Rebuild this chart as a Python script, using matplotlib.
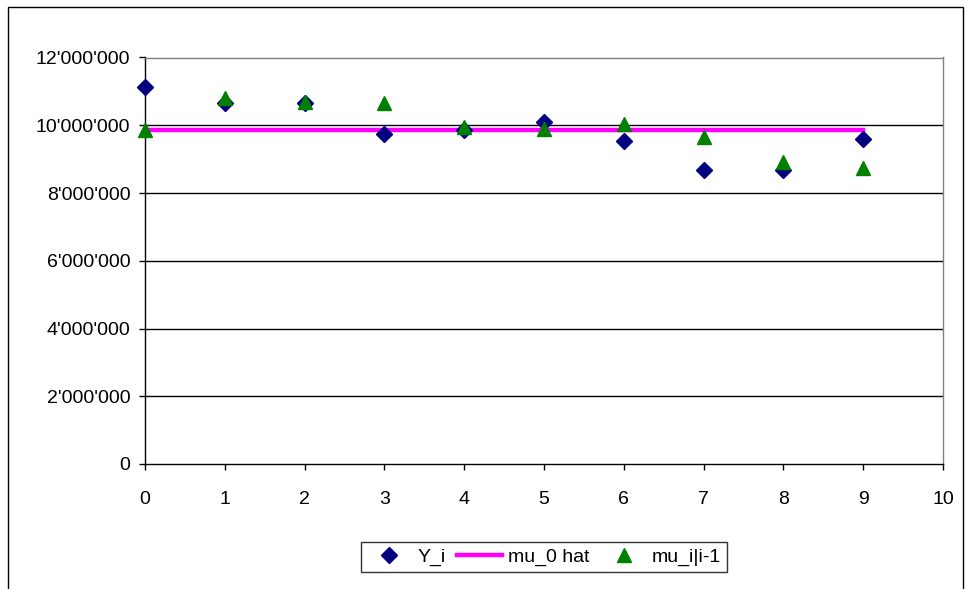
import numpy as np
import matplotlib.pyplot as plt
from matplotlib.ticker import FuncFormatter
from matplotlib.patches import Rectangle

plt.rcParams['font.family'] = ['Liberation Sans', 'DejaVu Sans']

# observations and one-step predictions
i_vals = [0, 1, 2, 3, 4, 5, 6, 7, 8, 9]
y_i = [11130000, 10660000, 10660000, 9730000, 9850000, 10100000,
       9540000, 8690000, 8690000, 9600000]
mu_pred = [9870000, 10790000, 10680000, 10650000, 9950000, 9880000,
           10030000, 9650000, 8910000, 8740000]
mu0_hat = 9870000

fig = plt.figure(figsize=(9.69, 5.89), dpi=100)
fig.patches.append(Rectangle((8 / 969, -0.05), 955 / 969, 1 - 7 / 589 + 0.05,
                             transform=fig.transFigure, fill=False,
                             edgecolor='black', linewidth=1))
ax = fig.add_axes([145 / 969, 1 - 464 / 589, 798 / 969, 406.5 / 589])

ax.plot(i_vals, y_i, linestyle='none', marker='D', markersize=8.3,
        color='#000080', label='Y_i', zorder=4, clip_on=False)
ax.plot([i_vals[0], i_vals[-1]], [mu0_hat, mu0_hat], color='#FF00FF',
        linewidth=3.2, label='mu_0 hat', zorder=3)
ax.plot(i_vals, mu_pred, linestyle='none', marker='^', markersize=10.5,
        color='#008000', label='mu_i|i-1', zorder=5, clip_on=False)

ax.set_xlim(0, 10)
ax.set_ylim(0, 12000000)
ax.set_xticks(range(0, 11))
ax.set_yticks(range(0, 12000001, 2000000))
ax.yaxis.set_major_formatter(FuncFormatter(lambda v, p: f"{int(v):,}".replace(',', "'")))

for gy in range(2000000, 12000001, 2000000):
    ax.axhline(gy, color='black', linewidth=1, zorder=1)

ax.spines['top'].set_color('#808080')
ax.spines['right'].set_color('#808080')
ax.spines['left'].set_color('black')
ax.spines['bottom'].set_color('black')
for s in ax.spines.values():
    s.set_linewidth(1)
ax.tick_params(direction='out', length=4.5, width=1, labelsize=14)
ax.tick_params(axis='x', pad=15)
ax.tick_params(axis='y', pad=6)

leg = ax.legend(loc='center', bbox_to_anchor=(544 / 969, 1 - 557 / 589),
                bbox_transform=fig.transFigure, ncol=3, frameon=True,
                fancybox=False, fontsize=14, handlelength=2.3,
                columnspacing=0.6, handletextpad=0.3, borderpad=0.3,
                borderaxespad=0)
leg.get_frame().set_edgecolor('black')
leg.get_frame().set_linewidth(1)

fig.savefig('out.png', dpi=100)
